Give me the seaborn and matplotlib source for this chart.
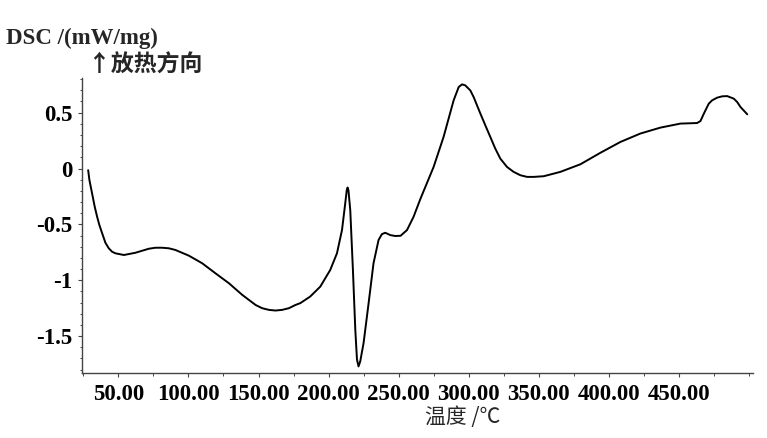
import matplotlib
matplotlib.use("Agg")
import matplotlib.pyplot as plt
import seaborn as sns
import numpy as np
import pandas as pd
from matplotlib.ticker import FixedLocator, MultipleLocator

# ---- data ----
temperature = [28.4, 29.3, 31.2, 33.1, 34.8, 36.4, 38.4, 40.7, 43.1, 45.5, 47.9, 53.9,
               62.1, 71.7, 76.4, 81.2, 86.0, 90.7, 100.3, 109.8, 119.3, 128.9, 138.4,
               147.9, 152.6, 157.4, 162.1, 166.9, 171.7, 176.4, 179.8, 186.9, 194.1,
               201.2, 206.0, 209.6, 211.9, 213.0, 213.6, 214.2, 215.5, 217.4, 219.1,
               220.3, 221.4, 222.6, 225.0, 228.6, 232.1, 235.7, 238.1, 240.5, 244.1,
               247.6, 251.4, 256.0, 260.7, 265.5, 275.0, 282.1, 289.3, 292.9, 295.3,
               297.6, 301.2, 303.6, 308.4, 311.9, 315.5, 319.0, 322.6, 327.4, 332.1,
               336.9, 341.7, 346.4, 353.6, 365.5, 379.8, 394.1, 408.4, 422.6, 436.9,
               451.2, 463.1, 465.5, 467.9, 471.4, 473.8, 477.4, 481.0, 484.6, 489.3,
               491.7, 494.1, 498.9]
dsc = [-0.015, -0.104, -0.223, -0.343, -0.432, -0.506, -0.580, -0.664, -0.714, -0.745,
       -0.759, -0.774, -0.754, -0.718, -0.709, -0.709, -0.714, -0.729, -0.780, -0.848,
       -0.938, -1.027, -1.131, -1.221, -1.250, -1.265, -1.271, -1.265, -1.250, -1.221,
       -1.205, -1.146, -1.057, -0.908, -0.759, -0.551, -0.313, -0.194, -0.170, -0.194,
       -0.372, -0.908, -1.444, -1.710, -1.771, -1.727, -1.563, -1.205, -0.848, -0.640,
       -0.587, -0.575, -0.596, -0.604, -0.602, -0.551, -0.432, -0.274, 0.014, 0.282,
       0.610, 0.729, 0.753, 0.744, 0.699, 0.639, 0.491, 0.387, 0.282, 0.179, 0.089,
       0.014, -0.030, -0.060, -0.075, -0.075, -0.069, -0.030, 0.038, 0.141, 0.238,
       0.313, 0.366, 0.402, 0.407, 0.425, 0.491, 0.580, 0.610, 0.634, 0.646, 0.648,
       0.625, 0.595, 0.550, 0.485]
xtick_values = [50, 100, 150, 200, 250, 300, 350, 400, 450]
xtick_labels = ["50.00", "100.00", "150.00", "200.00", "250.00", "300.00",
                "350.00", "400.00", "450.00"]
ytick_values = [-1.5, -1.0, -0.5, 0.0, 0.5]
ytick_labels = ["-1.5", "-1", "-0.5", "0", "0.5"]
y_title = "DSC /(mW/mg)"
y_note = "↑放热方向"
x_title = "温度 /℃"

df = pd.DataFrame({"T": temperature, "DSC": dsc})

sns.set_theme(style="ticks")
plt.rcParams["font.family"] = ["Liberation Serif", "Noto Sans CJK SC", "DejaVu Sans"]
plt.rcParams["axes.unicode_minus"] = False

fig = plt.figure(figsize=(7.67, 4.38), dpi=100)
ax = fig.add_axes([82 / 767, 1 - 373 / 438, (753 - 82) / 767, (373 - 78) / 438])

sns.lineplot(data=df, x="T", y="DSC", sort=False, color="black", linewidth=1.4,
             ax=ax, estimator=None, solid_joinstyle="round", solid_capstyle="round")

ax.set_xlim(24, 503)
ax.set_ylim(-1.83, 0.81)
for s in ["top", "right"]:
    ax.spines[s].set_visible(False)
for s in ["left", "bottom"]:
    ax.spines[s].set_color("#444444")
    ax.spines[s].set_linewidth(1.0)

ax.xaxis.set_major_locator(FixedLocator(xtick_values))
ax.set_xticklabels(xtick_labels)
ax.xaxis.set_minor_locator(MultipleLocator(25))
ax.yaxis.set_major_locator(FixedLocator(ytick_values))
ax.set_yticklabels(ytick_labels)
ax.yaxis.set_minor_locator(MultipleLocator(0.1))

ax.tick_params(axis="both", which="major", length=3, width=0.8, color="#444444",
               labelsize=16.5, labelcolor="black")
ax.tick_params(axis="both", which="minor", length=1.8, width=0.7, color="#444444")
ax.tick_params(axis="x", which="major", pad=5)
ax.tick_params(axis="y", which="major", pad=4)
for lab in ax.get_xticklabels() + ax.get_yticklabels():
    lab.set_fontweight("bold")

ax.set_xlabel("")
ax.set_ylabel("")

fig.text(6 / 767, 1 - 38 / 438, y_title, ha="left", va="center",
         fontsize=16.5, fontweight="bold", family=["Liberation Serif", "DejaVu Sans"])
fig.text(88 / 767, 1 - 65 / 438, y_note, ha="left", va="center",
         fontsize=16.5, fontweight="bold", family=["Noto Sans CJK SC", "DejaVu Sans"])
fig.text(463 / 767, 1 - 417 / 438, x_title, ha="center", va="center",
         fontsize=15, family=["Noto Sans CJK SC", "DejaVu Sans"])

fig.savefig("out.png", dpi=100)
